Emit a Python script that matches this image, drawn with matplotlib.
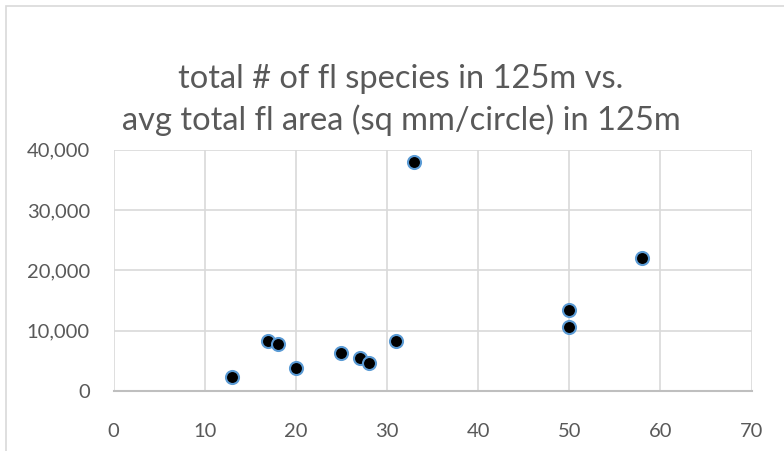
import numpy as np
import matplotlib.pyplot as plt
from matplotlib.ticker import MultipleLocator, FuncFormatter
from matplotlib.patches import Rectangle

# total # of flowering species vs. avg total flower area, 125m circles
SPECIES = [13, 17, 18, 20, 25, 27, 28, 31, 33, 50, 50, 58]
AREA = [2400, 8300, 7800, 3800, 6300, 5500, 4700, 8300, 37900, 13400, 10550, 22000]

TITLE = "total # of fl species in 125m vs.\navg total fl area (sq mm/circle) in 125m"
TEXT_COLOR = "#595959"
GRID_COLOR = "#D9D9D9"

plt.rcParams["font.family"] = ["Lato", "DejaVu Sans"]

fig = plt.figure(figsize=(7.84, 4.51), dpi=100)
W, H = 784, 451

# chart frame (light grey border)
fig.patches.append(Rectangle((5.5 / W, -0.1), 1.2, 1.1 - 5.5 / H, transform=fig.transFigure,
                             fill=False, edgecolor="#D9D9D9", linewidth=1.2))

ax = fig.add_axes([113.5 / W, (H - 391) / H, (751.5 - 113.5) / W, (391 - 149.5) / H])

ax.scatter(SPECIES, AREA, s=88, color="black", edgecolors="#5B9BD5", linewidths=1.5, zorder=5)

ax.set_xlim(0, 70)
ax.set_ylim(0, 40000)
ax.xaxis.set_major_locator(MultipleLocator(10))
ax.yaxis.set_major_locator(MultipleLocator(10000))
ax.yaxis.set_major_formatter(FuncFormatter(lambda y, _: f"{int(y):,}"))

ax.grid(True, color=GRID_COLOR, linewidth=1.2)
ax.set_axisbelow(True)
for side in ["top", "right", "left"]:
    ax.spines[side].set_visible(False)
ax.spines["bottom"].set_color("#BFBFBF")
ax.spines["bottom"].set_linewidth(1.5)
ax.tick_params(axis="both", length=0, labelsize=14.5, labelcolor=TEXT_COLOR)
ax.tick_params(axis="x", pad=23)
ax.tick_params(axis="y", pad=17)

fig.text(401 / W, 1 - 100 / H, TITLE, ha="center", va="center", fontsize=23.5,
         color=TEXT_COLOR, linespacing=1.38)

fig.savefig("out.png", dpi=100)
